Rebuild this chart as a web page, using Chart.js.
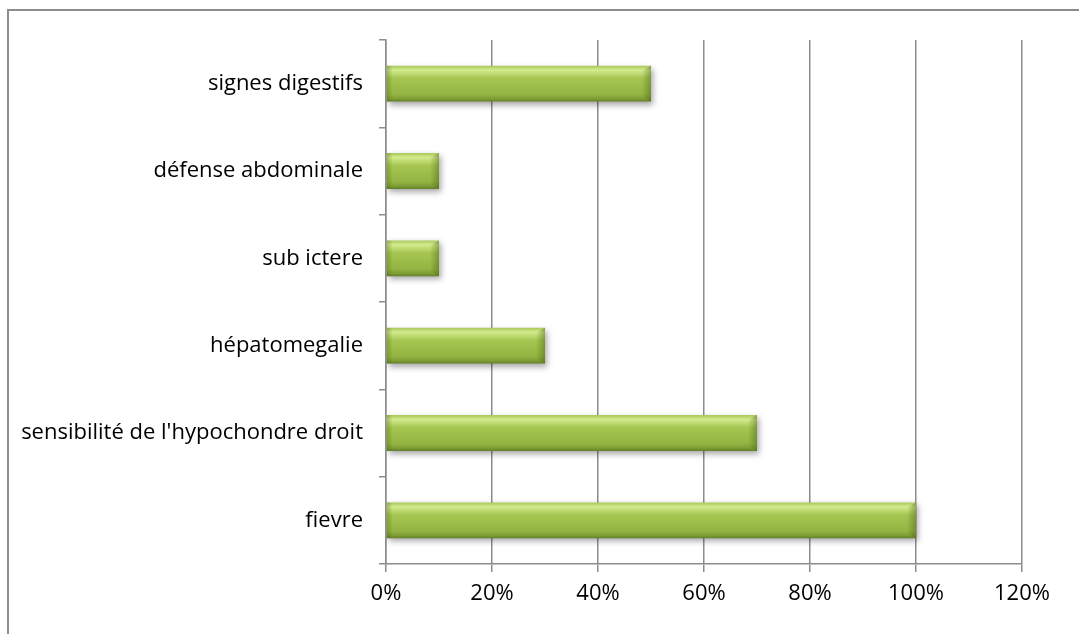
<!DOCTYPE html>
<html>
<head>
<meta charset="utf-8">
<title>Signes cliniques</title>
<script src="https://cdn.jsdelivr.net/npm/chart.js@4"></script>
<style>
  body { margin: 0; background: #fff; overflow: hidden; }
  #frame {
    position: absolute; left: 7px; top: 9px;
    width: 1200px; height: 800px;
    border-left: 2px solid #8c8c8c; border-top: 2px solid #8c8c8c;
  }
  #wrap { position: absolute; left: 0; top: 0; width: 1079px; height: 634px; }
</style>
</head>
<body>
<div id="frame"></div>
<div id="wrap"><canvas id="signsChart" width="1079" height="634"></canvas></div>
<script>
const signs = [
    'signes digestifs',
    'défense abdominale',
    'sub ictere',
    'hépatomegalie',
    "sensibilité de l'hypochondre droit",
    'fievre'
];
const percents = [50, 10, 10, 30, 70, 100];
const xTicks = [0, 20, 40, 60, 80, 100, 120];

const BAR_PCT = 0.41;
const LABEL_FONT = { family: "'Open Sans', Lato, sans-serif", size: 22 };

// vertical gradient per bar, gives the rounded/glossy look
function barFill(c) {
    const chart = c.chart;
    const area = chart.chartArea;
    if (!area) return '#9bbb47';
    const band = area.height / signs.length;
    const cy = chart.scales.y.getPixelForValue(c.dataIndex);
    const half = band * BAR_PCT / 2;
    const g = chart.ctx.createLinearGradient(0, cy - half, 0, cy + half);
    g.addColorStop(0, '#a9c85a');
    g.addColorStop(0.12, '#d3eb8d');
    g.addColorStop(0.35, '#a6c651');
    g.addColorStop(0.8, '#93b442');
    g.addColorStop(0.92, '#7f9d34');
    g.addColorStop(1, '#62802a');
    return g;
}

const barShadow = {
    id: 'barShadow',
    beforeDatasetsDraw(chart) {
        const ctx = chart.ctx;
        ctx.save();
        ctx.shadowColor = 'rgba(0,0,0,0.35)';
        ctx.shadowBlur = 6;
        ctx.shadowOffsetX = 2;
        ctx.shadowOffsetY = 3;
    },
    afterDatasetsDraw(chart) {
        const ctx = chart.ctx;
        ctx.restore();
        // darker bevel on both ends of each bar
        chart.getDatasetMeta(0).data.forEach(bar => {
            const top = bar.y - bar.height / 2;
            const h = bar.height;
            let g = ctx.createLinearGradient(bar.x - 9, 0, bar.x, 0);
            g.addColorStop(0, 'rgba(70,95,20,0)');
            g.addColorStop(1, 'rgba(70,95,20,0.45)');
            ctx.fillStyle = g;
            ctx.beginPath();
            ctx.moveTo(bar.x - 9, top + 5);
            ctx.lineTo(bar.x, top);
            ctx.lineTo(bar.x, top + h);
            ctx.lineTo(bar.x - 9, top + h - 5);
            ctx.closePath();
            ctx.fill();
            g = ctx.createLinearGradient(bar.base, 0, bar.base + 6, 0);
            g.addColorStop(0, 'rgba(70,95,20,0.35)');
            g.addColorStop(1, 'rgba(70,95,20,0)');
            ctx.fillStyle = g;
            ctx.fillRect(bar.base, top, 6, h);
        });
    }
};

const ctx = document.getElementById('signsChart').getContext('2d');
new Chart(ctx, {
    type: 'bar',
    data: {
        labels: signs,
        datasets: [{
            data: percents,
            backgroundColor: barFill,
            borderWidth: 0,
            categoryPercentage: 1,
            barPercentage: BAR_PCT
        }]
    },
    options: {
        indexAxis: 'y',
        responsive: false,
        animation: false,
        layout: { padding: { top: 40, right: 57, bottom: 0, left: 0 } },
        plugins: { legend: { display: false }, tooltip: { enabled: false } },
        scales: {
            x: {
                min: 0,
                max: 120,
                afterBuildTicks: axis => { axis.ticks = xTicks.map(v => ({ value: v })); },
                afterFit: axis => { axis.height = 70; },
                grid: { color: '#8c8c8c', lineWidth: 1.5, tickLength: 8 },
                border: { color: '#8c8c8c', width: 1.5 },
                ticks: {
                    color: '#000',
                    padding: 9,
                    font: LABEL_FONT,
                    callback: v => v + '%'
                }
            },
            y: {
                afterFit: axis => { axis.width = 386; },
                grid: { drawOnChartArea: false, offset: true, color: '#8c8c8c', lineWidth: 1.5, tickLength: 7 },
                border: { color: '#8c8c8c', width: 1.5 },
                ticks: {
                    color: '#000',
                    padding: 16,
                    font: LABEL_FONT
                }
            }
        }
    },
    plugins: [barShadow]
});
</script>
</body>
</html>
